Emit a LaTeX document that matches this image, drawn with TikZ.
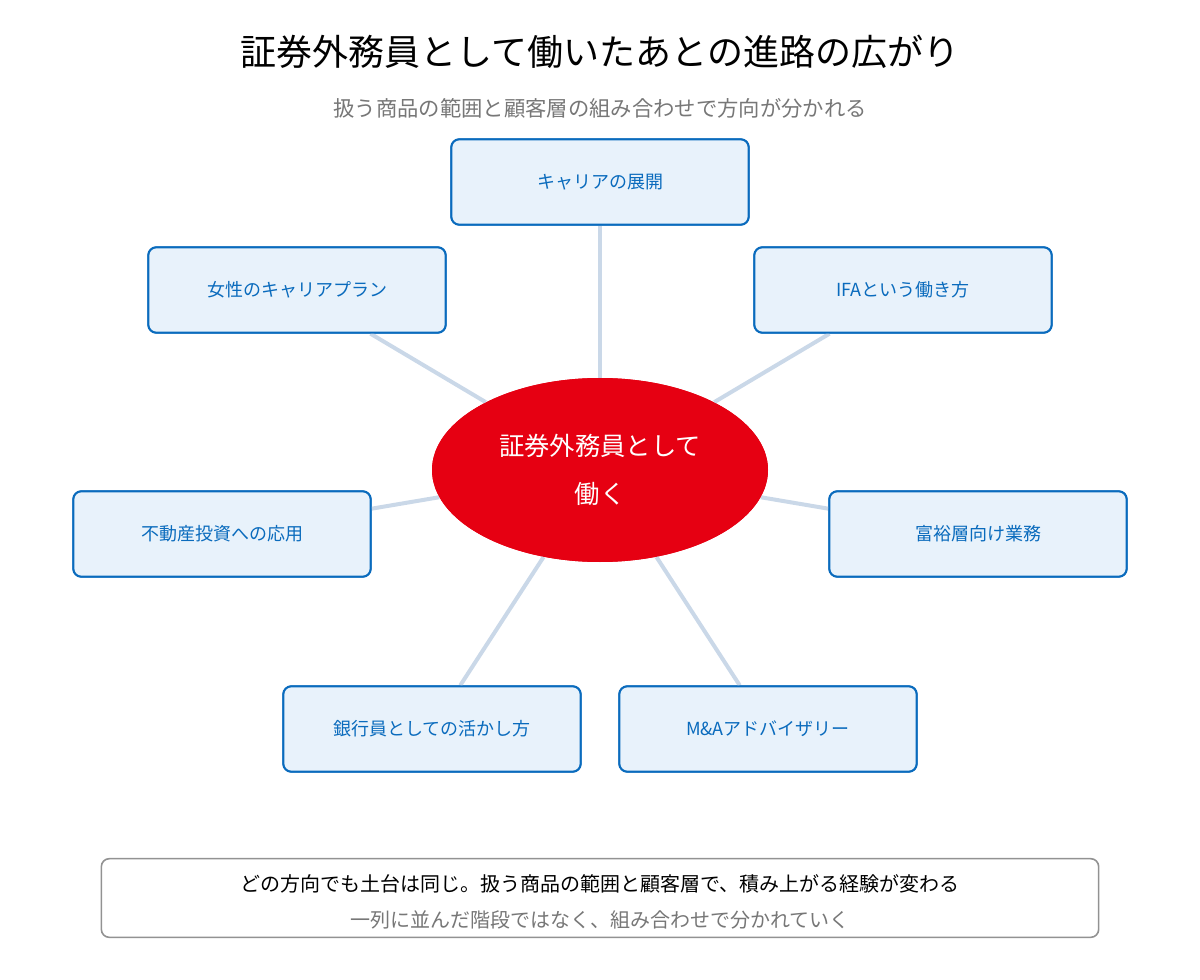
\documentclass[tikz,border=0pt]{standalone}
\usepackage{fontspec}
\setmainfont{Noto Sans CJK JP}
\usetikzlibrary{positioning,shapes.geometric}
\definecolor{boxfill}{HTML}{E8F2FB}
\definecolor{boxline}{HTML}{0A6BBD}
\definecolor{hubred}{HTML}{E60012}
\definecolor{linkcol}{HTML}{CAD8E8}
\definecolor{subgray}{HTML}{777777}
\tikzset{
  branch/.style={draw=boxline,line width=1.5pt,fill=boxfill,rounded corners=6pt,
    minimum width=223pt,minimum height=64pt,text=boxline,font=\fontsize{13.5}{16}\selectfont},
  hub/.style={ellipse,fill=hubred,minimum width=252pt,minimum height=138pt,text=white,
    align=center,font=\fontsize{19}{36}\selectfont},
  link/.style={draw=linkcol,line width=3pt}
}
\begin{document}
\begin{tikzpicture}[x=0.75pt,y=-0.75pt]
  \useasboundingbox (0,0) rectangle (1200,980);
  \node (title) at (600,52) {\fontsize{27}{32}\selectfont 証券外務員として働いたあとの進路の広がり};
  \node[text=subgray] (sub) at (600,108) {\fontsize{16}{20}\selectfont 扱う商品の範囲と顧客層の組み合わせで方向が分かれる};

  \node[hub] (h) at (600,470) {証券外務員として\\働く};
  \node[branch] (top) at (600,182) {キャリアの展開};
  \node[branch] (ifa) at (903,290) {IFAという働き方};
  \node[branch] (wom) at (297,290) {女性のキャリアプラン};
  \node[branch] (est) at (222,534) {不動産投資への応用};
  \node[branch] (rich) at (978,534) {富裕層向け業務};
  \node[branch] (bank) at (432,729) {銀行員としての活かし方};
  \node[branch] (ma) at (768,729) {M\&Aアドバイザリー};

  \begin{scope}[on background layer/.style={}]
  \end{scope}
  \foreach \b in {top,ifa,wom,est,rich,bank,ma}
    \draw[link] (h) -- (\b);
  % redraw on top
  \node[hub] at (h) {証券外務員として\\働く};
  \node[branch] at (top) {キャリアの展開};
  \node[branch] at (ifa) {IFAという働き方};
  \node[branch] at (wom) {女性のキャリアプラン};
  \node[branch] at (est) {不動産投資への応用};
  \node[branch] at (rich) {富裕層向け業務};
  \node[branch] at (bank) {銀行員としての活かし方};
  \node[branch] at (ma) {M\&Aアドバイザリー};

  \node[draw=subgray!80,line width=1.2pt,rounded corners=6pt,fill=white,
    minimum width=748pt,minimum height=59pt] (note) at (600,898) {};
  \node (n1) at (600,884) {\fontsize{15}{18}\selectfont どの方向でも土台は同じ。扱う商品の範囲と顧客層で、積み上がる経験が変わる};
  \node[text=subgray] (n2) at (600,920) {\fontsize{15}{18}\selectfont 一列に並んだ階段ではなく、組み合わせで分かれていく};
\end{tikzpicture}
\end{document}
